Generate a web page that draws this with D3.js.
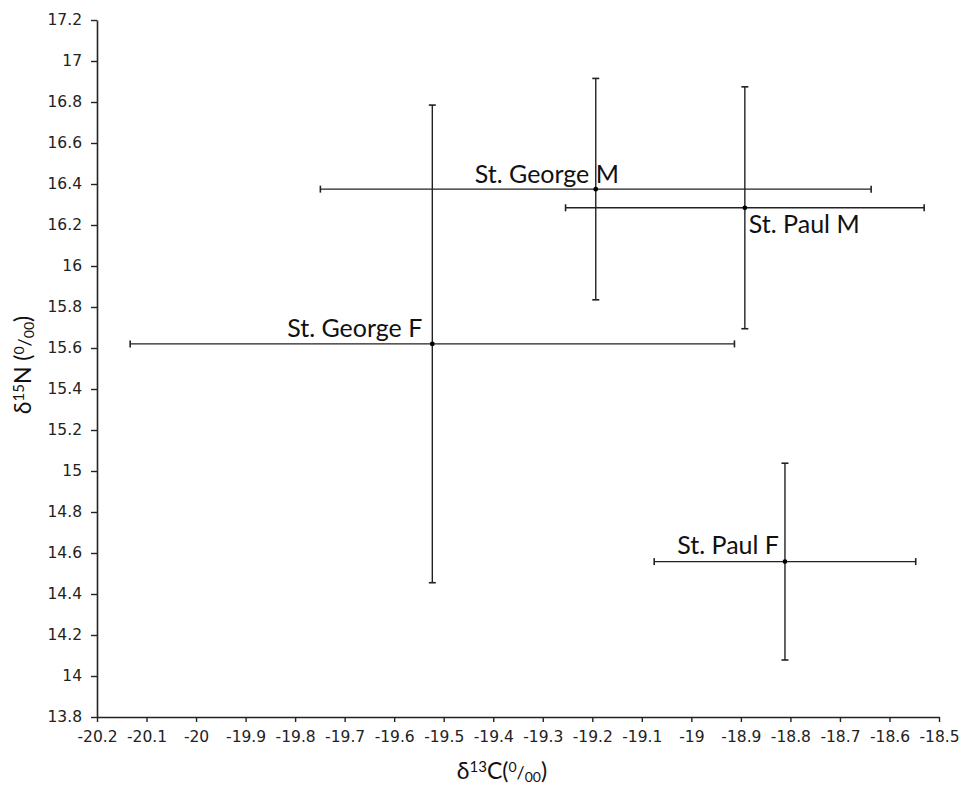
<!DOCTYPE html>
<html>
<head>
<meta charset="utf-8">
<script src="https://cdn.jsdelivr.net/npm/d3@7"></script>
<style>
  html, body { margin: 0; padding: 0; background: #fff; }
  svg { display: block; }
</style>
</head>
<body>
<div id="chart"></div>
<script>
// ---- data ----
const groups = ["St. George M", "St. Paul M", "St. George F", "St. Paul F"];
const d13C    = [-19.193, -18.892, -19.523, -18.811];
const d13C_sd = [0.556, 0.362, 0.610, 0.264];
const d15N    = [16.375, 16.284, 15.620, 14.558];
const d15N_sd = [0.540, 0.590, 1.165, 0.480];
const xTicks = [-20.2, -20.1, -20, -19.9, -19.8, -19.7, -19.6, -19.5, -19.4, -19.3, -19.2, -19.1, -19, -18.9, -18.8, -18.7, -18.6, -18.5];
const yTicks = [13.8, 14, 14.2, 14.4, 14.6, 14.8, 15, 15.2, 15.4, 15.6, 15.8, 16, 16.2, 16.4, 16.6, 16.8, 17, 17.2];

// label placement (style, not data)
const labelPos = {
  "St. George M": {anchor: "start", dx: -121, dy: -6},
  "St. Paul M":   {anchor: "start", dx: 4, dy: 25},
  "St. George F": {anchor: "end",   dx: -10, dy: -7},
  "St. Paul F":   {anchor: "end",   dx: -6, dy: -8}
};

const W = 961, H = 785;
const svg = d3.select("#chart").append("svg").attr("width", W).attr("height", H);

const x = d3.scaleLinear().domain([-20.2, -18.5]).range([97, 939]);
const y = d3.scaleLinear().domain([13.8, 17.2]).range([717, 20]);

const fmt = d => String(+(+d).toFixed(1));
const tickFont = "'DejaVu Sans', Verdana, sans-serif";
const labelFont = "Lato, 'Open Sans', sans-serif";
const ink = "#222";

// x axis
const gx = svg.append("g").attr("transform", `translate(0,${y(13.8)})`)
  .call(d3.axisBottom(x).tickValues(xTicks).tickFormat(fmt).tickSize(5).tickSizeOuter(0));
gx.select(".domain").attr("stroke", ink).attr("stroke-width", 1.6);
gx.selectAll(".tick line").attr("stroke", ink).attr("stroke-width", 1.4);
gx.selectAll(".tick text").attr("font-family", tickFont).attr("font-size", 15.5).attr("fill", "#222").attr("dy", "1.12em");

// y axis
const gy = svg.append("g").attr("transform", `translate(${x(-20.2)},0)`)
  .call(d3.axisLeft(y).tickValues(yTicks).tickFormat(fmt).tickSize(6).tickSizeOuter(0));
gy.select(".domain").attr("stroke", ink).attr("stroke-width", 1.6);
gy.selectAll(".tick line").attr("stroke", ink).attr("stroke-width", 1.4);
gy.selectAll(".tick text").attr("font-family", tickFont).attr("font-size", 15.5).attr("fill", "#222").attr("x", -15);

// data rows
const rows = groups.map((g, i) => ({g, x: d13C[i], xe: d13C_sd[i], y: d15N[i], ye: d15N_sd[i]}));

const bars = svg.append("g").attr("stroke", ink).attr("fill", "none");
const cap = 3.5;
rows.forEach(r => {
  bars.append("line").attr("x1", x(r.x - r.xe)).attr("x2", x(r.x + r.xe))
    .attr("y1", y(r.y)).attr("y2", y(r.y)).attr("stroke-width", 1.4);
  [r.x - r.xe, r.x + r.xe].forEach(v => {
    bars.append("line").attr("x1", x(v)).attr("x2", x(v))
      .attr("y1", y(r.y) - cap).attr("y2", y(r.y) + cap).attr("stroke-width", 1.6);
  });
  bars.append("line").attr("x1", x(r.x)).attr("x2", x(r.x))
    .attr("y1", y(r.y - r.ye)).attr("y2", y(r.y + r.ye)).attr("stroke-width", 1.4);
  [r.y - r.ye, r.y + r.ye].forEach(v => {
    bars.append("line").attr("x1", x(r.x) - cap).attr("x2", x(r.x) + cap)
      .attr("y1", y(v)).attr("y2", y(v)).attr("stroke-width", 1.6);
  });
});

// points
svg.append("g").selectAll("circle").data(rows).join("circle")
  .attr("cx", d => x(d.x)).attr("cy", d => y(d.y)).attr("r", 2.4).attr("fill", "#000");

// labels
svg.append("g").selectAll("text").data(rows).join("text")
  .attr("x", d => x(d.x) + labelPos[d.g].dx)
  .attr("y", d => y(d.y) + labelPos[d.g].dy)
  .attr("text-anchor", d => labelPos[d.g].anchor)
  .attr("font-family", labelFont).attr("font-size", 25).attr("fill", "#111")
  .text(d => d.g);

// axis titles
function title(sel, sup) {
  sel.append("tspan").text("δ");
  sel.append("tspan").attr("font-size", 15).attr("dy", -7).text(sup[0]);
  sel.append("tspan").attr("dy", 7).text(sup[1]);
  sel.append("tspan").attr("font-size", 14).attr("dy", -7).text("0");
  sel.append("tspan").attr("dy", 7).attr("font-size", 18).text("/");
  sel.append("tspan").attr("font-size", 14).attr("dy", 3).text("00");
  sel.append("tspan").attr("dy", -3).text(")");
}
const xt = svg.append("text").attr("x", 502).attr("y", 779).attr("text-anchor", "middle")
  .attr("font-family", labelFont).attr("font-size", 23).attr("fill", "#111");
title(xt, ["13", "C("]);

const yt = svg.append("text").attr("transform", "translate(31,365) rotate(-90)").attr("text-anchor", "middle")
  .attr("font-family", labelFont).attr("font-size", 23).attr("fill", "#111");
title(yt, ["15", "N ("]);
</script>
</body>
</html>
